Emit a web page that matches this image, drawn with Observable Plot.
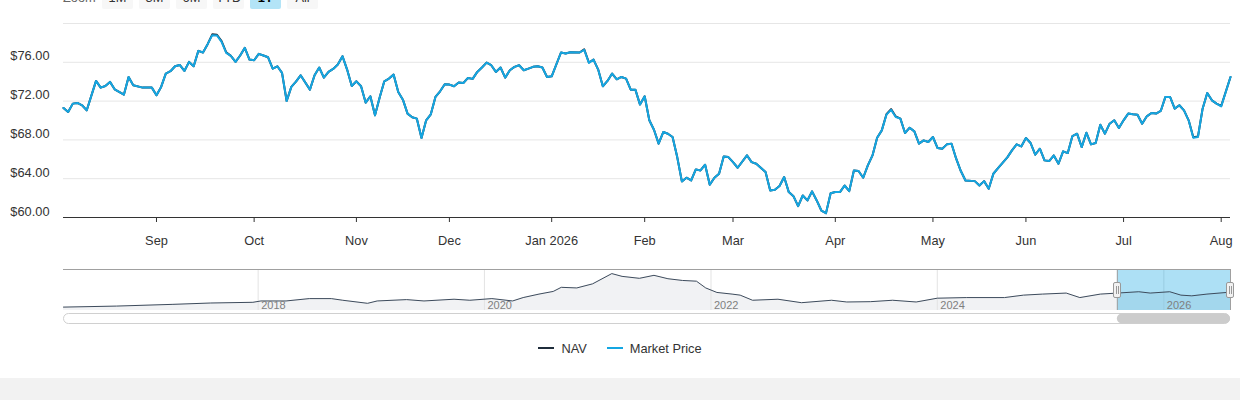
<!DOCTYPE html>
<html><head><meta charset="utf-8">
<script src="https://cdn.jsdelivr.net/npm/d3@7"></script>
<script src="https://cdn.jsdelivr.net/npm/@observablehq/plot@0.6"></script>
<style>
html,body{margin:0;padding:0;background:#fff}
body{width:1240px;height:400px;overflow:hidden;position:relative;font-family:"Liberation Sans",Arial,sans-serif;color:#333}
#zoombar{position:absolute;left:0;top:-13px;height:22px;width:400px;font-size:12.8px}
#zoombar .lab{position:absolute;left:63px;top:0;line-height:22px;color:#666}
#zoombar .btn{position:absolute;top:0;width:31px;height:22px;line-height:22px;text-align:center;background:#f7f7f7;border-radius:2px;color:#333}
#zoombar .btn.sel{background:#b3e4f7;font-weight:bold;color:#000}
#main{position:absolute;left:0;top:0}
#nav{position:absolute;left:0;top:258px}
#legend{position:absolute;left:0;top:336px;width:1240px;height:24px;display:flex;justify-content:center;align-items:center;font-size:12.8px;color:#333}
#legend .item{display:flex;align-items:center;margin:0 10px}
#legend .sw{width:16px;height:2px;margin-right:7px}
#band{position:absolute;left:0;top:378px;width:1240px;height:22px;background:#f2f2f2}
</style></head><body>
<div id="zoombar"></div>
<div id="main"></div>
<div id="nav"></div>
<div id="legend"></div>
<div id="band"></div>
<script>
// ---- main chart data (trading-day index on ordinal axis) ----
const dayIndex = [0,1,2,3,4,5,7,8,9,10,11,13,14,15,17,19,20,21,22,23,24,25,26,27,28,29,30,31,32,33,34,35,36,37,38,39,40,41,42,43,44,45,46,47,48,49,50,51,53,54,55,56,57,58,59,60,61,62,63,64,65,66,67,68,69,70,71,72,73,74,75,76,77,78,79,80,81,82,83,84,85,86,87,88,89,90,91,92,93,94,95,96,97,98,99,100,101,102,103,104,105,107,108,109,111,112,113,114,115,116,117,118,119,120,121,122,123,124,125,126,127,128,129,130,131,132,133,134,135,136,137,138,139,140,141,142,143,144,145,147,148,149,151,152,153,154,155,156,157,158,159,160,161,162,163,164,165,166,167,168,169,170,171,172,173,174,175,176,177,178,179,180,181,182,183,184,185,186,187,188,189,190,191,192,193,194,196,197,198,199,200,201,203,204,205,206,207,208,209,210,211,212,213,214,215,216,217,218,219,220,221,222,223,224,225,226,227,228,229,230,231,232,233,234,235,236,237,238,239,240,241,242,243,244,245,246,247,248,249,251];
const marketPrice = [71.29,70.88,71.74,71.81,71.57,71.05,74.08,73.39,73.56,73.98,73.22,72.67,74.49,73.63,73.39,73.39,72.60,73.46,74.84,75.08,75.59,75.73,75.11,76.04,75.59,77.18,77.01,77.87,78.80,78.76,78.11,76.97,76.66,76.04,76.70,77.49,76.28,76.21,76.87,76.70,76.52,75.35,75.59,74.91,72.01,73.46,74.00,74.66,73.18,74.66,75.46,74.42,75.01,75.32,75.77,76.63,75.25,73.56,74.04,73.53,71.84,72.50,70.53,72.36,74.04,74.32,74.73,72.94,72.15,70.71,70.33,70.19,68.19,70.02,70.64,72.43,73.01,73.73,73.70,73.53,73.91,73.87,74.39,74.29,75.01,75.46,75.97,75.70,75.01,75.46,74.42,75.18,75.53,75.70,75.18,75.35,75.53,75.59,75.46,74.49,74.56,77.01,76.90,77.04,77.01,77.28,75.94,76.28,75.25,73.53,74.08,74.84,74.25,74.49,74.32,73.18,73.18,71.64,72.50,70.02,69.05,67.61,68.81,68.64,68.30,66.23,63.72,64.10,63.82,64.96,64.85,65.44,63.37,64.10,64.51,66.30,66.23,65.71,65.13,66.40,65.71,65.54,64.68,62.79,62.86,63.24,64.17,62.62,62.20,61.17,62.27,61.76,62.69,61.76,60.72,60.45,62.51,62.62,62.62,63.30,62.72,64.85,64.79,64.10,65.37,66.40,68.23,68.98,70.60,71.10,70.36,70.19,68.71,69.26,68.88,67.61,67.95,67.78,68.30,67.16,67.09,67.54,67.61,66.06,64.79,63.82,63.75,63.30,63.75,62.96,64.51,65.09,66.20,66.92,67.54,67.33,68.19,67.68,66.47,67.09,65.89,65.82,66.40,65.54,66.82,66.64,68.40,68.64,67.26,68.74,67.54,67.68,69.57,68.64,69.67,70.02,69.23,70.02,70.71,70.64,70.60,69.67,70.43,70.77,70.71,70.98,72.43,72.43,71.22,71.57,71.05,70.02,68.23,68.30,71.22,72.84,72.08,71.74,71.46,74.49];
const navPrice = [71.29,70.88,71.74,71.81,71.57,71.05,74.08,73.39,73.56,73.98,73.22,72.67,74.49,73.63,73.39,73.39,72.60,73.46,74.84,75.08,75.59,75.73,75.11,76.04,75.59,77.18,77.01,77.87,78.88,78.84,78.18,77.02,76.66,76.04,76.70,77.49,76.28,76.21,76.87,76.70,76.52,75.35,75.59,74.91,72.01,73.46,74.00,74.66,73.18,74.66,75.46,74.42,75.01,75.32,75.77,76.63,75.25,73.56,74.04,73.53,71.84,72.50,70.53,72.36,74.04,74.32,74.73,72.94,72.15,70.71,70.33,70.19,68.19,70.02,70.64,72.43,73.01,73.73,73.70,73.53,73.91,73.87,74.39,74.29,75.01,75.46,75.97,75.70,75.01,75.46,74.42,75.18,75.53,75.70,75.18,75.35,75.53,75.59,75.46,74.49,74.56,77.01,76.90,77.04,77.01,77.34,75.98,76.28,75.25,73.53,74.08,74.84,74.25,74.49,74.32,73.18,73.18,71.64,72.50,70.02,69.05,67.61,68.81,68.64,68.30,66.23,63.72,64.10,63.82,64.96,64.85,65.44,63.37,64.10,64.51,66.30,66.23,65.71,65.13,66.40,65.71,65.54,64.68,62.79,62.86,63.24,64.17,62.62,62.20,61.17,62.27,61.76,62.69,61.76,60.72,60.45,62.51,62.62,62.62,63.30,62.72,64.85,64.79,64.10,65.37,66.40,68.23,68.98,70.64,71.17,70.42,70.19,68.71,69.26,68.88,67.61,67.95,67.78,68.30,67.16,67.09,67.54,67.61,66.06,64.79,63.82,63.75,63.30,63.75,62.96,64.51,65.09,66.20,66.92,67.54,67.33,68.19,67.68,66.47,67.09,65.89,65.82,66.40,65.54,66.82,66.64,68.40,68.64,67.26,68.74,67.54,67.68,69.57,68.64,69.67,70.02,69.23,70.02,70.71,70.64,70.60,69.67,70.43,70.77,70.71,70.98,72.43,72.43,71.22,71.57,71.05,70.02,68.28,68.34,71.22,72.84,72.08,71.74,71.50,74.49];
const monthTickIndex = [20,41,63,83,105,125,144,166,187,207,228,249];
const monthTickLabel = ["Sep","Oct","Nov","Dec","Jan 2026","Feb","Mar","Apr","May","Jun","Jul","Aug"];
const yTickValues = [60,64,68,72,76];
const yGridValues = [64,68,72,76,80];
const seriesNames = ["NAV","Market Price"];
const seriesColors = ["#1f2d3b","#14a6e2"];

// ---- navigator (full history) ----
const navigatorDates = ["2016-04-13","2016-10-01","2017-04-01","2017-08-01","2017-12-15","2018-01-10","2018-04-01","2018-06-15","2018-08-25","2018-10-01","2018-12-20","2019-01-20","2019-04-25","2019-06-20","2019-09-25","2019-11-15","2020-01-25","2020-04-01","2020-05-05","2020-06-25","2020-08-10","2020-09-05","2020-10-25","2020-12-15","2021-02-15","2021-03-20","2021-05-15","2021-07-01","2021-08-15","2021-10-01","2021-11-15","2021-12-15","2022-01-20","2022-03-10","2022-04-05","2022-05-15","2022-08-05","2022-10-20","2023-01-25","2023-03-15","2023-05-30","2023-08-10","2023-10-25","2024-01-01","2024-04-05","2024-08-05","2024-10-05","2024-12-05","2025-02-20","2025-04-05","2025-06-10","2025-08-04","2025-10-12","2025-11-18","2026-01-20","2026-02-25","2026-04-01","2026-05-20","2026-08-04"];
const navigatorValues = [21.9,25.5,31.6,36.3,38.8,43.5,43.5,51.8,51.8,46.0,35.2,43.5,48.2,43.5,49.6,46.0,51.8,43.5,55.4,67.6,77.0,91.4,89.2,103.6,139.6,129.9,123.0,133.5,121.6,115.5,113.0,89.2,73.4,67.6,64.0,46.0,49.6,37.4,46.0,39.9,41.0,46.0,39.9,53.2,55.4,55.4,64.0,67.6,71.2,55.4,67.6,71.2,75.9,71.2,75.9,64.0,61.5,67.6,74.5];
const navigatorYears = ["2018-01-01","2020-01-01","2022-01-01","2024-01-01","2026-01-01"];
const navigatorDomain = ["2016-04-13","2026-08-04"];
const selectedRange = ["2025-08-04","2026-08-04"];
const zoomButtons = ["1M","3M","6M","YTD","1Y","All"];
const selectedButton = "1Y";

const font = "Liberation Sans, Arial, sans-serif";

// zoom bar
const zb = document.getElementById("zoombar");
zb.innerHTML = '<span class="lab">Zoom</span>' + zoomButtons.map((b,k)=>
  `<span class="btn${b===selectedButton?' sel':''}" style="left:${102+k*37}px">${b}</span>`).join("");

// main chart
const mainData = dayIndex.map((d,k)=>({i:d, price:marketPrice[k], nav:navPrice[k]}));
const main = Plot.plot({
  width:1240, height:258, marginLeft:63, marginRight:10, marginTop:23, marginBottom:41,
  style:{fontFamily:font, fontSize:"12.8px", color:"#333", background:"transparent"},
  x:{domain:[0,251], label:null},
  y:{domain:[60,80], label:null},
  marks:[
    Plot.gridY(yGridValues,{stroke:"#e6e6e6", strokeOpacity:1}),
    Plot.axisY(yTickValues,{tickSize:0, tickPadding:14, dy:-6, label:null, fill:"#333", tickFormat:d=>"$"+d.toFixed(2)}),
    Plot.axisX(monthTickIndex,{tickSize:5, tickPadding:13, label:null, stroke:"#333", fill:"#333", tickFormat:d=>monthTickLabel[monthTickIndex.indexOf(d)]}),
    Plot.ruleY([60],{stroke:"#333"}),
    Plot.line(mainData,{x:"i", y:"nav", stroke:seriesColors[0], strokeWidth:2}),
    Plot.line(mainData,{x:"i", y:"price", stroke:seriesColors[1], strokeWidth:2})
  ]
});
document.getElementById("main").appendChild(main);

// navigator
const navData = navigatorDates.map((d,k)=>({date:new Date(d), v:navigatorValues[k]}));
const yearDates = navigatorYears.map(d=>new Date(d));
const sel = selectedRange.map(d=>new Date(d));
const navPlot = Plot.plot({
  width:1240, height:70, marginLeft:63, marginRight:10, marginTop:11, marginBottom:18,
  style:{fontFamily:font, fontSize:"11px", background:"transparent"},
  x:{type:"utc", domain:navigatorDomain.map(d=>new Date(d)), axis:null},
  y:{domain:[10,154], axis:null},
  marks:[
    Plot.areaY(navData,{x:"date", y1:10, y2:"v", fill:"#f1f2f4"}),
    Plot.ruleX(yearDates,{y1:10, y2:154, stroke:"#e3e3e3"}),
    Plot.rect([sel],{x1:d=>d[0], x2:d=>d[1], y1:10, y2:154, fill:"#00a0e0", fillOpacity:0.32}),
    Plot.line(navData,{x:"date", y:"v", stroke:"#3d4b5c", strokeWidth:1}),
    Plot.text(yearDates,{x:d=>d, text:d=>String(d.getUTCFullYear()), frameAnchor:"bottom", textAnchor:"start", dx:3, dy:-2, fill:"#7f7f7f", fontSize:11}),
    Plot.ruleY([154],{stroke:"#a0a0a0"}),
    Plot.ruleX(sel,{y1:10, y2:154, stroke:"#a0a0a0"})
  ]
});
document.getElementById("nav").appendChild(navPlot);
// handles and scrollbar, placed through the plot's x scale
const sx = navPlot.scale("x");
const svg = d3.select(navPlot);
const xr = sx.range;
const g = svg.append("g");
g.append("rect").attr("x", xr[0]+0.5).attr("y",55.5).attr("width", xr[1]-xr[0]-1).attr("height",10)
  .attr("rx",5).attr("fill","#fff").attr("stroke","#d0d0d0");
const t0 = sx.apply(sel[0]), t1 = sx.apply(sel[1]);
g.append("rect").attr("x", t0).attr("y",55.5).attr("width", t1-t0).attr("height",10)
  .attr("rx",5).attr("fill","#cccccc");
sel.forEach(d=>{
  const cx = Math.round(sx.apply(d));
  g.append("rect").attr("x",cx-3.5).attr("y",24.5).attr("width",7).attr("height",15).attr("rx",1.5)
    .attr("fill","#f2f2f2").attr("stroke","#999");
  [-1,1].forEach(o=>g.append("line").attr("x1",cx+o+0.5).attr("x2",cx+o+0.5).attr("y1",28).attr("y2",36).attr("stroke","#999"));
});

// legend
document.getElementById("legend").innerHTML = seriesNames.map((n,k)=>
  `<span class="item"><span class="sw" style="background:${seriesColors[k]}"></span>${n}</span>`).join("");
</script>
</body></html>
